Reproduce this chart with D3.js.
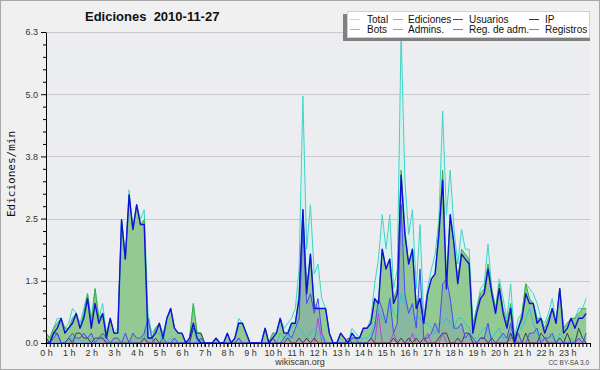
<!DOCTYPE html>
<html>
<head>
<meta charset="utf-8">
<script src="https://cdn.jsdelivr.net/npm/d3@7/dist/d3.min.js"></script>
<style>
body { margin: 0; background: #fff; }
svg { display: block; font-family: "Liberation Sans", Arial, sans-serif; }
</style>
</head>
<body>
<script>

// one value per 10 minutes, 24 h -> 144 slots (edits per minute)
var hourLabels = ["0 h","1 h","2 h","3 h","4 h","5 h","6 h","7 h","8 h","9 h","10 h","11 h",
                  "12 h","13 h","14 h","15 h","16 h","17 h","18 h","19 h","20 h","21 h","22 h","23 h"];
var yTicks = [0, 1.26, 2.52, 3.78, 5.04, 6.3];

var total = [
  0.2,0.1,0.3,0.5,0.5,0.3,  0.4,0.7,0.6,0.4,0.7,1.0,  0.5,1.1,0.5,0.8,0.2,0.5,  0.2,0.3,2.5,1.7,3.1,2.3,
  2.8,2.5,2.7,0.6,0.2,0.3,  0.4,0.2,0.5,0.7,0.3,0.2,  0.2,0,0.1,0.8,0.2,0.2,    0,0,0,0.1,0,0,
  0.2,0,0.1,0.5,0.4,0.2,    0,0,0,0,0.3,0,            0.2,0.2,0.5,0.3,0.4,0.5,  0.7,1.5,5.0,1.9,2.8,1.4,
  1.6,0.9,0.7,0.2,0,0,      0.2,0.1,0,0.3,0.2,0.1,    0.3,0.3,0.5,1.2,1.7,2.6,  1.9,2.6,1.1,1.5,6.3,3.3,
  2.2,2.7,1.1,2.4,0.5,1.1,  1.5,1.8,2.5,4.7,2.6,3.5,  2.3,1.6,2.3,1.9,1.9,0.4,  0.7,1.1,1.2,2.0,1.1,0.7,
  1.3,0.9,0.5,1.2,0.1,0.5,  0.6,1.2,1.1,1.0,0.8,0.5,  0.4,0.6,0.9,0.4,1.1,0.3,  0.4,0.5,0.5,0.7,0.7,0.9
];
var ediciones = [
  0.2,0.1,0.3,0.4,0.5,0.3,  0.3,0.5,0.6,0.3,0.6,1.0,  0.4,1.1,0.5,0.6,0.2,0.5,  0.2,0.2,2.5,1.7,3.0,2.3,
  2.8,2.4,2.5,0.1,0.1,0.3,  0.4,0.1,0.5,0.7,0.3,0.2,  0.2,0,0.1,0.8,0.2,0.2,    0,0,0,0.1,0,0,
  0.2,0,0.1,0.4,0.4,0.2,    0,0,0,0,0.3,0,            0.2,0.2,0.5,0.2,0.2,0.4,  0.4,1.0,2.7,1.1,1.8,0.8,
  0.7,0.7,0.7,0.2,0,0,      0.2,0.1,0,0.2,0.1,0.1,    0.3,0.3,0.4,0.9,0.8,1.9,  1.5,1.7,0.9,1.1,3.5,2.3,
  1.6,1.9,0.8,0.9,0.4,1.0,  1.3,1.4,2.3,3.5,1.3,2.6,  2.0,1.3,1.9,1.8,1.7,0.3,  0.7,1.0,1.1,1.6,1.1,0.7,
  1.2,0.7,0.4,0.8,0.1,0.3,  0.6,1.2,0.9,0.8,0.5,0.5,  0.3,0.5,0.7,0.4,1.1,0.3,  0.4,0.5,0.5,0.6,0.7,0.7
];
var usuarios = [
  0,0,0.2,0.3,0.5,0.2,      0.3,0.4,0.6,0.3,0.5,0.9,  0.3,0.8,0.4,0.6,0.1,0.5,  0.2,0.2,2.5,1.7,3.0,2.3,
  2.8,2.4,2.4,0.1,0.1,0.2,  0.4,0.1,0.5,0.7,0.3,0.2,  0.2,0,0.1,0.4,0.1,0,      0,0,0,0.1,0,0,
  0.2,0,0.1,0.4,0.4,0.2,    0,0,0,0,0.3,0,            0.1,0.2,0.5,0.2,0.2,0.4,  0.4,0.9,2.7,1.0,1.8,0.7,
  0.7,0.7,0.7,0.2,0,0,      0.2,0.1,0,0.2,0.1,0.1,    0.3,0.3,0.4,0.9,0.8,1.9,  1.5,1.7,0.8,1.0,3.4,2.2,
  1.6,1.9,0.7,0.9,0.4,1.0,  1.3,1.4,2.2,3.3,1.1,2.6,  2.0,1.2,1.8,1.7,1.6,0.2,  0.6,0.9,1.0,1.5,1.0,0.6,
  1.1,0.6,0.3,0.7,0,0.3,    0.5,1.0,0.8,0.8,0.4,0.5,  0.2,0.4,0.7,0.4,1.1,0.2,  0.3,0.5,0.3,0.5,0.5,0.6
];
var ip = [
  0.1,0,0.2,0.2,0,0,        0.1,0,0.2,0.2,0.1,0.1,    0,0.1,0.1,0.1,0,0,        0,0,0,0,0,0,
  0,0,0.1,0,0,0.1,          0,0,0,0,0,0,              0,0,0,0.3,0.2,0.2,        0,0,0,0,0,0,
  0,0,0,0,0,0,              0,0,0,0,0,0,              0.1,0,0,0,0.1,0,          0,0.1,0,0.1,0,0.1,
  0,0,0,0,0,0,              0,0,0.1,0,0,0,            0,0,0.1,0,0,0,            0,0,0.1,0,0.1,0,
  0.1,0,0.1,0,0.1,0,        0,0,0.1,0.2,0.2,0,        0,0.1,0,0.2,0.2,0,        0,0.1,0.1,0,0.1,0,
  0,0,0,0.2,0,0,            0,0.2,0,0,0,0.2,          0.1,0,0,0,0.1,0,          0.2,0,0,0.3,0.1,0
];
var bots = [
  0,0,0,0,0,0, 0,0,0,0,0,0, 0,0,0,0,0,0, 0,0,0,0,0,0, 0,0,0,0,0,0, 0,0,0,0,0,0,
  0,0,0,0,0,0, 0,0,0,0,0,0, 0,0,0,0,0,0, 0,0,0,0,0,0, 0,0,0,0,0,0, 0,0,0,0,0,0,
  0,0,0,0,0,0, 0,0,0,0,0,0, 0,0,0,0,0,0, 0,0,0,0,0,0, 0,0,0,0,0,0, 0,0,0,0,0,0,
  0,0,0,0,0,0, 0,0,0,0,0,0, 0,0,0,0,0,0, 0,0,0,0,0,0, 0,0,0,0,0,0, 0,0,0,0,0,0
];
var admins = [
  0.1,0,0,0,0,0,            0,0.1,0,0,0,0,            0,0,0,0.1,0,0,            0,0,0,0,0,0,
  0,0,0.1,0.5,0.1,0.2,      0.2,0,0,0.1,0,0,          0,0,0,0.3,0,0,            0,0,0,0,0,0,
  0,0,0,0,0,0,              0,0,0,0,0,0,              0.1,0,0.2,0.1,0.1,0.3,    0.4,0.3,0.2,0.1,0.2,0.3,
  0.2,0.1,0,0,0,0,          0,0,0,0,0,0,              0.1,0.1,0.2,0.4,0.7,0.5,  0.4,0.9,0.6,0.5,1.0,0.8,
  0.7,0.6,0.5,0.5,0.4,0.4,  0.3,0.2,0.4,0.4,0.5,0.4,  0.3,0.5,0.5,0.4,0.3,0.1,  0.1,0.2,0.3,0.3,0.1,0.2,
  0.3,0.1,0.1,0.2,0,0.3,    0.3,0.5,0.7,0.4,0.2,0.1,  0.1,0.2,0.1,0,0.2,0.1,    0,0.1,0,0.1,0,0.1
];
var regAdm = [
  0,0,0,0,0,0, 0,0,0,0,0,0, 0,0,0,0,0,0, 0,0,0,0,0,0, 0,0,0,0,0,0, 0,0,0,0,0,0,
  0,0,0,0,0,0, 0,0,0,0,0,0, 0,0,0,0.1,0,0, 0,0,0,0,0,0, 0,0,0,0,0,0, 0,0,0,0,0,0,
  0.5,0,0,0,0,0, 0,0,0,0,0,0, 0,0,0,0,0.6,0, 0,0,0.2,0,0,0, 0,0.2,0,0,0,0.2, 0,0,0,0.2,0,0,
  0,0,0,0,0,0, 0,0,0,0,0,0, 0,0,0,0.1,0.1,0, 0,0,0,0,0,0, 0,0,0,0,0,0, 0,0,0,0,0,0
];
var registros = [
  0,0,0.1,0.2,0,0,          0.1,0.2,0.1,0.1,0.2,0.1,  0.2,0,0.1,0.2,0.1,0,      0.1,0.1,0,0.2,0,0.2,
  0.1,0.1,0.2,0.5,0.1,0,    0,0.1,0,0,0.1,0,          0,0,0,0,0,0.1,            0,0,0,0,0,0,
  0,0,0,0.1,0,0,            0,0,0,0,0,0,              0,0,0,0.1,0.2,0.1,        0.3,0.5,2.3,0.8,1.0,0.6,
  0.9,0.2,0,0,0,0,          0,0,0,0.1,0.1,0,          0,0,0.1,0.3,0.9,0.7,      0.4,0.9,0.2,0.4,2.8,1.0,
  0.6,0.8,0.3,1.5,0.1,0.1,  0.2,0.4,0.2,1.2,1.3,0.9,  0.3,0.3,0.4,0.1,0.2,0.1,  0,0.1,0.1,0.4,0,0,
  0.1,0.2,0.1,0.4,0,0.2,    0,0,0.2,0.2,0.3,0,        0.1,0.1,0.2,0,0,0,        0,0,0,0.1,0,0.2
];

var legendNames = ["Total", "Ediciones", "Usuarios", "IP", "Bots", "Admins.", "Reg. de adm.", "Registros"];
var legendColors = ["#a8e6e0", "#7dcc7d", "#3a3ae6", "#333333", "#f0a040", "#3cc8e0", "#c048e0", "#7c7cf0"];

var width = 600, height = 370;
var plotLeft = 46, plotRight = 590, plotTop = 32, plotBottom = 343;

var svg = d3.select("body").append("svg")
    .attr("width", width)
    .attr("height", height);

svg.append("rect").attr("x", 0.5).attr("y", 0.5).attr("width", width - 1).attr("height", height - 1)
    .attr("fill", "#f0f0f0").attr("stroke", "#a8a8a8");

svg.append("rect").attr("x", plotLeft).attr("y", plotTop)
    .attr("width", plotRight - plotLeft).attr("height", plotBottom - plotTop)
    .attr("fill", "#ebedf0");

var x = d3.scaleLinear().domain([0, 144]).range([plotLeft, plotRight]);
var y = d3.scaleLinear().domain([0, 6.3]).range([plotBottom, plotTop]);

// grid
svg.append("g").selectAll("line").data(yTicks.slice(1)).enter().append("line")
    .attr("x1", plotLeft).attr("x2", plotRight)
    .attr("y1", function(d) { return Math.round(y(d)) + 0.5; })
    .attr("y2", function(d) { return Math.round(y(d)) + 0.5; })
    .attr("stroke", "#c9c9c9");

function pts(arr) {
  return arr.map(function(v, i) { return [i, v]; });
}

var line = d3.line().x(function(d) { return x(d[0]); }).y(function(d) { return y(d[1]); });
var area = d3.area().x(function(d) { return x(d[0]); }).y0(plotBottom).y1(function(d) { return y(d[1]); });

var plot = svg.append("g");

plot.append("path").attr("d", area(pts(total))).attr("fill", "#d9f1ee");
plot.append("path").attr("d", area(pts(ediciones))).attr("fill", "#93c993");
plot.append("path").attr("d", area(pts(registros))).attr("fill", "rgba(80,80,240,0.14)");

var lines = [
  {data: total, color: "#3fd4c8", w: 1},
  {data: ediciones, color: "#3daf3d", w: 1},
  {data: bots, color: "#f0a040", w: 1},
  {data: regAdm, color: "#c040e0", w: 1},
  {data: admins, color: "#2cc4dc", w: 1},
  {data: ip, color: "#404040", w: 1},
  {data: registros, color: "#4a4af0", w: 1},
  {data: usuarios, color: "#1010dc", w: 1.4}
];

lines.forEach(function(s) {
  plot.append("path").attr("d", line(pts(s.data)))
      .attr("fill", "none").attr("stroke", s.color)
      .attr("stroke-width", s.w).attr("stroke-linejoin", "round");
});

// axes
var minorY = [];
for (var k = 0; k < 5; k++) {
  for (var m = 1; m < 5; m++) minorY.push(yTicks[k] + (yTicks[k + 1] - yTicks[k]) * m / 5);
}

svg.append("g").attr("transform", "translate(" + plotLeft + ",0)")
    .call(d3.axisLeft(y).tickValues(minorY).tickSize(3).tickSizeOuter(0).tickFormat(""))
    .call(function(g) { g.select(".domain").remove(); });

var yAxis = svg.append("g").attr("transform", "translate(" + plotLeft + ",0)")
    .call(d3.axisLeft(y).tickValues(yTicks).tickSize(5).tickSizeOuter(0)
          .tickFormat(function(d) { return d.toFixed(1); }));
yAxis.selectAll("text").attr("font-size", 9).attr("fill", "#333")
    .attr("font-family", "'Liberation Sans', Arial, sans-serif");

var slots = [];
for (var s = 0; s <= 144; s++) slots.push(s);

svg.append("g").attr("transform", "translate(0," + plotBottom + ")")
    .call(d3.axisBottom(x).tickValues(slots).tickSize(4).tickSizeOuter(0).tickFormat(""));

var xAxis = svg.append("g").attr("transform", "translate(0," + plotBottom + ")")
    .call(d3.axisBottom(x).tickValues(hourLabels.map(function(d, i) { return i * 6; }))
          .tickSize(4).tickSizeOuter(0)
          .tickFormat(function(d, i) { return hourLabels[i]; }));
xAxis.selectAll("text").attr("font-size", 9).attr("fill", "#333").attr("dy", "0.62em")
    .attr("font-family", "'Liberation Sans', Arial, sans-serif");
xAxis.select(".domain").remove();
svg.append("line").attr("x1", plotLeft).attr("x2", plotRight)
    .attr("y1", plotBottom + 0.5).attr("y2", plotBottom + 0.5)
    .attr("stroke", "#000");

// titles
svg.append("text").attr("x", 85).attr("y", 21)
    .attr("font-size", 13).attr("font-weight", "bold").attr("fill", "#111")
    .style("white-space", "pre")
    .text("Ediciones  2010-11-27");

svg.append("text").attr("transform", "translate(15,174) rotate(-90)")
    .attr("text-anchor", "middle").attr("font-size", 11)
    .attr("font-family", "'DejaVu Sans Mono', monospace").attr("fill", "#111")
    .text("Ediciones/min");

svg.append("text").attr("x", 300).attr("y", 365).attr("text-anchor", "middle")
    .attr("font-size", 9).attr("fill", "#333").text("wikiscan.org");

svg.append("text").attr("x", 589).attr("y", 365).attr("text-anchor", "end")
    .attr("font-size", 6.5).attr("fill", "#444").text("CC BY-SA 3.0");

// legend
svg.append("rect").attr("x", 343).attr("y", 14).attr("width", 247).attr("height", 27).attr("fill", "#808080");
svg.append("rect").attr("x", 347.5).attr("y", 11.5).attr("width", 242).attr("height", 26)
    .attr("fill", "#fff").attr("stroke", "#d0d0d0");

var colSwatch = [350, 393, 453, 529];
var colText = [367, 408, 469, 545];
var leg = svg.append("g").selectAll("g").data(legendNames).enter().append("g")
    .attr("transform", function(d, i) {
      return "translate(0," + (i < 4 ? 19 : 29) + ")";
    });
leg.append("line")
    .attr("x1", function(d) { return colSwatch[legendNames.indexOf(d) % 4]; })
    .attr("x2", function(d) { return colSwatch[legendNames.indexOf(d) % 4] + 10; })
    .attr("y1", 0.5).attr("y2", 0.5)
    .attr("stroke", function(d) { return legendColors[legendNames.indexOf(d)]; });
leg.append("text")
    .attr("x", function(d) { return colText[legendNames.indexOf(d) % 4]; })
    .attr("y", 4).attr("font-size", 10).attr("fill", "#111")
    .text(function(d) { return d; });

</script>
</body>
</html>
